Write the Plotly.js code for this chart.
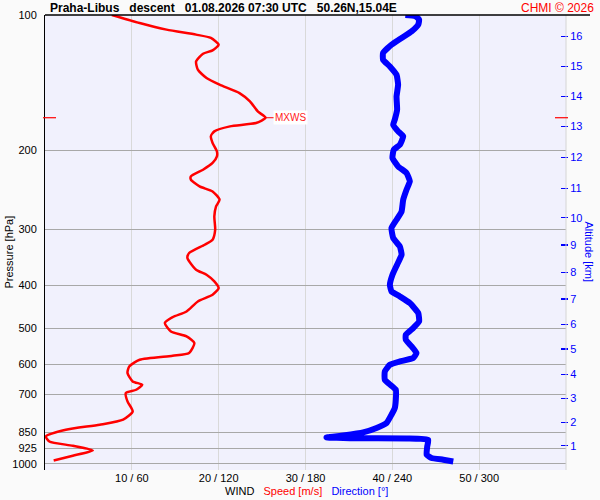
<!DOCTYPE html>
<html>
<head>
<meta charset="utf-8">
<script src="https://cdn.plot.ly/plotly-3.0.1.min.js"></script>
<style>html,body{margin:0;padding:0;background:#fafafa;}#chart{width:600px;height:500px;}</style>
</head>
<body>
<div id="chart"></div>
<script>
// Wind speed profile (m/s) vs pressure (hPa)
var speedP = [100,104.2,107.8,110.6,112.5,116.5,119.9,122.0,126.9,132.4,138.2,143.0,149.3,155.8,164.0,169.4,174.1,177.1,181.7,186.4,192.9,201.4,206.6,213.7,221.2,228.9,232.8,241.0,247.3,258.0,267.1,281.1,300.9,316.8,325.1,339.2,348.0,369.5,379.1,392.4,406.0,420.2,434.9,457.8,471.1,485.8,507.3,520.5,538.4,566.6,574.5,586.4,607.0,627.9,655.6,666.8,684.2,695.8,726.5,764.7,797.8,818.6,840.0,869.5,892.1,912.0,934.1,959.8,983.3];
var speed = [7.7,10.9,14.0,17.4,19.1,20.0,19.3,18.2,17.4,17.6,18.6,20.1,22.4,23.6,24.5,25.4,24.3,21.3,19.5,19.1,19.3,19.8,19.8,19.3,18.2,16.8,16.8,17.8,19.3,20.1,19.7,19.5,19.6,19.3,18.4,16.6,16.4,17.4,18.6,19.5,20.0,19.3,17.6,16.3,14.7,13.8,14.5,16.3,17.2,16.6,14.7,10.9,9.7,9.5,10.1,11.2,10.5,9.3,9.5,10.1,9.0,6.3,2.4,0.1,0.5,3.2,5.5,3.2,1.0];

// Wind direction profile (deg) vs pressure (hPa)
var dirP = [100,100.6,102.4,105.1,108.8,112.5,116.5,121.5,125.8,130.2,135.9,143.0,151.9,162.6,171.1,175.6,181.7,186.4,194.6,199.6,208.3,217.5,224.9,234.8,245.1,258.0,274.0,285.9,298.3,314.1,328.0,342.0,360.1,379.1,399.2,413.0,423.8,438.4,461.5,481.8,498.5,515.9,529.3,547.8,566.6,581.3,591.6,601.7,622.7,649.9,670.3,684.2,720.1,751.4,777.7,811.5,832.5,851.6,864.9,873.9,877.0,878.3,884.3,915.4,954.9,971.2,979.7,988.3];
var direction = [249,256,258.5,257.9,253.3,246.4,239.4,233.6,233.6,238.3,242.9,244.0,242.9,243.3,241.7,240.6,244.0,247.5,245.2,241.0,240.1,244.0,249.8,252.1,249.8,247.5,246.4,242.9,239.4,240.6,245.2,246.4,243.3,240.1,238.3,239.4,245.2,252.1,257.9,258.5,254.4,249.3,249.3,253.3,256.7,254.4,245.2,238.3,234.8,234.8,239.4,242.4,242.4,241.7,239.4,236.0,229.1,219.8,206.0,194.5,210.6,249.8,264.8,264.1,263.7,267.1,275.2,282.1];

// Axis ticks
var pressureTicks = [100,200,300,400,500,600,700,850,925,1000];
var pressureLabels = ['100','200','300','400','500','600','700','850','925','1000'];
var speedTicks = [10,20,30,40,50];
var dirTicks = [60,120,180,240,300];
var altLabels = ['1','2','3','4','5','6','7','8','9','10','11','12','13','14','15','16'];
var altPressure = [912.0,809.2,715.2,632.4,555.2,489.3,429.6,374.8,325.6,283.0,243.5,207.4,177.1,151.9,130.2,111.6];

var xTickText = speedTicks.map(function(s,i){ return s + ' / ' + dirTicks[i]; });

// max wind
var iMax = 0;
for (var i=1;i<speed.length;i++){ if (speed[i]>speed[iMax]) iMax=i; }
var pMax = speedP[iMax], sMax = speed[iMax];

var FONT = 'Liberation Sans, Arial, sans-serif';
var yRange = [3.014, 2];

var traces = [
  {x: direction, y: dirP, xaxis:'x2', yaxis:'y', mode:'lines', line:{color:'#0000ff', width:6, shape:'spline', smoothing:0.4}, hoverinfo:'skip', showlegend:false},
  {x: speed, y: speedP, xaxis:'x', yaxis:'y', mode:'lines', line:{color:'#ff0000', width:2.5, shape:'spline', smoothing:0.6}, hoverinfo:'skip', showlegend:false},
  {x: speed, y: speedP, xaxis:'x', yaxis:'y2', mode:'lines', line:{color:'rgba(0,0,0,0)', width:0}, hoverinfo:'skip', showlegend:false}
];

var layout = {
  width:600, height:500,
  margin:{l:45, r:34, t:15, b:30},
  paper_bgcolor:'#fafafa',
  plot_bgcolor:'#f1f1fd',
  font:{family:FONT, size:11, color:'#000'},
  showlegend:false,
  title:{
    text:'<b>Praha-Libus\u00a0\u00a0\u00a0descent\u00a0\u00a0\u00a001.08.2026 07:30 UTC\u00a0\u00a0\u00a050.26N,15.04E</b>',
    font:{family:FONT, size:12, color:'#000'},
    x:50/600, xanchor:'left', xref:'container',
    y:1-8/500, yanchor:'middle', yref:'container'
  },
  xaxis:{
    range:[0,60], tickvals:speedTicks, ticktext:xTickText,
    showgrid:true, gridcolor:'#d9d9d9', gridwidth:1,
    zeroline:false, showline:false, ticks:'',
    tickfont:{size:11, color:'#000'}, fixedrange:true
  },
  xaxis2:{range:[0,360], overlaying:'x', visible:false, anchor:'y'},
  yaxis:{
    type:'log', range:yRange, tickvals:pressureTicks, ticktext:pressureLabels,
    showgrid:true, gridcolor:'#a8a8a8', gridwidth:1,
    zeroline:false, showline:true, linecolor:'#000', linewidth:1,
    ticks:'outside', ticklen:5, tickcolor:'rgba(0,0,0,0)',
    tickfont:{size:11, color:'#000'}
  },
  yaxis2:{
    type:'log', range:yRange, overlaying:'y', side:'right', anchor:'free', position:(560-45)/521,
    tickvals:altPressure, ticktext:altLabels,
    showgrid:false, zeroline:false, showline:false,
    ticks:'outside', ticklen:7, tickcolor:'#0000ff', tickwidth:1.2,
    tickfont:{size:11, color:'#0000ff'}
  },
  shapes:[
    {type:'line', xref:'paper', yref:'paper', x0:1, x1:1, y0:0, y1:1, line:{color:'#d4d4d4', width:1}},
    {type:'line', xref:'paper', yref:'paper', x0:0, x1:(590-45)/521, y0:1, y1:1, line:{color:'#000', width:1.5}},
    {type:'line', xref:'paper', yref:'y', x0:(43-45)/521, x1:(56-45)/521, y0:pMax, y1:pMax, line:{color:'#ff0000', width:1.2}},
    {type:'line', xref:'paper', yref:'y', x0:(555-45)/521, x1:(568-45)/521, y0:pMax, y1:pMax, line:{color:'#ff0000', width:1.2}}
  ],
  annotations:[
    {xref:'paper', yref:'paper', x:(596-45)/521, y:(470-8)/455, xanchor:'right', yanchor:'middle', showarrow:false,
     text:'CHMI \u00a9 2026', font:{family:FONT, size:12, color:'#ff0000'}},
    {xref:'paper', yref:'paper', x:(306-45)/521, y:(470-491)/455, xanchor:'center', yanchor:'middle', showarrow:false,
     text:'WIND\u00a0\u00a0\u00a0<span style="color:#ff0000">Speed [m/s]</span>\u00a0\u00a0\u00a0<span style="color:#0000ff">Direction [\u00b0]</span>',
     font:{family:FONT, size:11, color:'#000'}},
    {xref:'paper', yref:'paper', x:(8.5-45)/521, y:(470-252)/455, xanchor:'center', yanchor:'middle', showarrow:false,
     textangle:-90, text:'Pressure [hPa]', font:{family:FONT, size:11, color:'#000'}},
    {xref:'paper', yref:'paper', x:(588.5-45)/521, y:(470-252)/455, xanchor:'center', yanchor:'middle', showarrow:false,
     textangle:90, text:'Altitude [km]', font:{family:FONT, size:11, color:'#0000ff'}},
    {xref:'x', yref:'y', x:sMax, y:Math.log10(pMax), showarrow:true, arrowhead:0, arrowwidth:1, arrowcolor:'#ff0000',
     ax:25, ay:0, standoff:0, text:'MXWS', bgcolor:'#ffffff', borderpad:1,
     font:{family:FONT, size:10, color:'#ff2020'}}
  ]
};

Plotly.newPlot('chart', traces, layout, {staticPlot:true, displayModeBar:false});
</script>
</body>
</html>
